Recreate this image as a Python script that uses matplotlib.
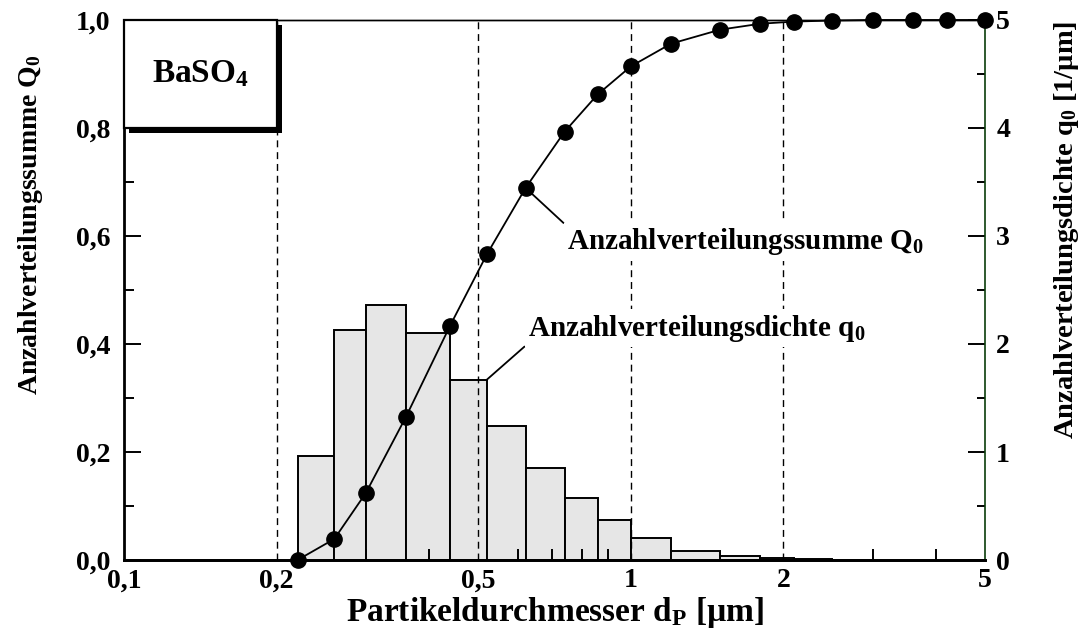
import numpy as np
import matplotlib
matplotlib.use("Agg")
import matplotlib.pyplot as plt
from matplotlib.patches import Rectangle
from matplotlib.ticker import FixedLocator, FixedFormatter, NullFormatter
from matplotlib.transforms import ScaledTranslation

plt.rcParams["font.family"] = ["Liberation Serif", "DejaVu Serif"]
plt.rcParams["font.weight"] = "bold"
plt.rcParams["axes.labelweight"] = "bold"
plt.rcParams["mathtext.fontset"] = "custom"
plt.rcParams["mathtext.rm"] = "Liberation Serif:bold"
plt.rcParams["mathtext.bf"] = "Liberation Serif:bold"
plt.rcParams["mathtext.it"] = "Liberation Serif:bold"

# Particle size class bounds [µm]
class_bounds = [0.22, 0.26, 0.30, 0.36, 0.44, 0.52, 0.62, 0.74, 0.86, 1.0,
                1.2, 1.5, 1.8, 2.1, 2.5, 3.0, 3.6, 4.2, 5.0]
# Cumulative number distribution Q0 at the class bounds
Q0 = [0.0, 0.039, 0.124, 0.265, 0.434, 0.566, 0.689, 0.793, 0.862, 0.914,
      0.956, 0.982, 0.993, 0.997, 0.999, 1.0, 1.0, 1.0, 1.0]
# Number density distribution q0 per class [1/µm]
q0 = [0.96, 2.13, 2.36, 2.10, 1.67, 1.24, 0.855, 0.577, 0.37, 0.206,
      0.086, 0.034, 0.015, 0.007, 0.003]

x_ticks = [0.1, 0.2, 0.5, 1, 2, 5]
x_ticklabels = ["0,1", "0,2", "0,5", "1", "2", "5"]
x_minor = [0.3, 0.4, 0.6, 0.7, 0.8, 0.9, 3, 4]
Q_ticks = [0.0, 0.2, 0.4, 0.6, 0.8, 1.0]
Q_ticklabels = ["0,0", "0,2", "0,4", "0,6", "0,8", "1,0"]
q_ticks = [0, 1, 2, 3, 4, 5]
q_ticklabels = ["0", "1", "2", "3", "4", "5"]
guide_lines = [0.2, 0.5, 1, 2]

fig = plt.figure(figsize=(10.84, 6.44), dpi=100)
ax2 = fig.add_axes([0.1144, 0.1304, 0.7943, 0.8386])
ax1 = fig.add_axes(ax2.get_position(), sharex=ax2)
ax1.patch.set_visible(False)
ax2.yaxis.tick_right()
ax2.yaxis.set_label_position("right")

# density histogram on the right axis
edges = np.array(class_bounds[:len(q0) + 1])
ax2.bar(edges[:-1], q0, width=np.diff(edges), align="edge",
        color="#e6e6e6", edgecolor="black", linewidth=1.4, zorder=1)
ax2.set_xscale("log")
ax2.set_xlim(0.1, 5)
ax2.set_ylim(0, 5)

# dashed guide lines
for gx in guide_lines:
    ax1.axvline(gx, color="black", lw=1.0, ls=(0, (5, 3.5)), zorder=1)

# cumulative curve
ax1.plot(class_bounds, Q0, color="black", lw=1.3, marker="o", ms=11,
         zorder=4, clip_on=False)
ax1.set_ylim(0, 1.0)

# title box with shadow
off = ScaledTranslation(5 / 100, -5 / 100, fig.dpi_scale_trans)
ax1.add_patch(Rectangle((0.1, 0.8), 0.1, 0.2, transform=ax1.transData + off,
                        facecolor="black", edgecolor="black", lw=0,
                        zorder=5, clip_on=False))
ax1.add_patch(Rectangle((0.1, 0.8), 0.1, 0.2, facecolor="white",
                        edgecolor="black", lw=1.6, zorder=6, clip_on=False))
ax1.text(0.1414, 0.9, r"BaSO$_4$", ha="center", va="center", fontsize=24,
         zorder=7)

# annotations
ax1.annotate(r"Anzahlverteilungssumme Q$_0$", xy=(class_bounds[6], Q0[6]),
             xytext=(0.5145, 0.5894), textcoords="axes fraction",
             ha="left", va="center", fontsize=21, zorder=7,
             bbox=dict(boxstyle="square,pad=0.12", fc="white", ec="none"),
             arrowprops=dict(arrowstyle="-", color="black", lw=1.3,
                             relpos=(0, 1), shrinkA=0, shrinkB=0))
ax1.annotate(r"Anzahlverteilungsdichte q$_0$", xy=(class_bounds[5], q0[4]),
             xycoords=ax2.transData,
             xytext=(0.4692, 0.4296), textcoords="axes fraction",
             ha="left", va="center", fontsize=21, zorder=7,
             bbox=dict(boxstyle="square,pad=0.12", fc="white", ec="none"),
             arrowprops=dict(arrowstyle="-", color="black", lw=1.3,
                             relpos=(0, 0), shrinkA=0, shrinkB=0))

# x axis
ax2.xaxis.set_major_locator(FixedLocator(x_ticks))
ax2.xaxis.set_major_formatter(FixedFormatter(x_ticklabels))
ax2.xaxis.set_minor_locator(FixedLocator(x_minor))
ax2.xaxis.set_minor_formatter(NullFormatter())
ax2.tick_params(axis="x", which="both", direction="in", labelsize=20,
                pad=6, width=1.4)
ax2.tick_params(axis="x", which="major", length=0)
ax2.tick_params(axis="x", which="minor", length=8)
ax1.tick_params(axis="x", which="both", bottom=False, labelbottom=False)
ax2.set_xlabel(r"Partikeldurchmesser d$_\mathrm{P}$ [µm]", fontsize=24,
               labelpad=1)

# left axis
ax1.yaxis.set_major_locator(FixedLocator(Q_ticks))
ax1.yaxis.set_major_formatter(FixedFormatter(Q_ticklabels))
ax1.yaxis.set_minor_locator(FixedLocator([0.1, 0.3, 0.5, 0.7, 0.9]))
ax1.tick_params(axis="y", which="both", direction="in", labelsize=20,
                width=1.4, pad=10)
ax1.tick_params(axis="y", which="major", length=12)
ax1.tick_params(axis="y", which="minor", length=7)
ax1.set_ylabel(r"Anzahlverteilungssumme Q$_0$", fontsize=20)
ax1.yaxis.set_label_coords(-0.092, 0.62)

# right axis
ax2.yaxis.set_major_locator(FixedLocator(q_ticks))
ax2.yaxis.set_major_formatter(FixedFormatter(q_ticklabels))
ax2.yaxis.set_minor_locator(FixedLocator([0.5, 1.5, 2.5, 3.5, 4.5]))
ax2.tick_params(axis="y", which="both", direction="in", labelsize=20,
                width=1.4, pad=8)
ax2.tick_params(axis="y", which="major", length=12)
ax2.tick_params(axis="y", which="minor", length=6)
ax2.set_ylabel(r"Anzahlverteilungsdichte q$_0$ [1/µm]", fontsize=20.5)
ax2.yaxis.set_label_coords(1.0775, 0.611)

# spines
for ax in (ax1, ax2):
    ax.spines["left"].set_linewidth(2.0)
    ax.spines["bottom"].set_linewidth(2.0)
    ax.spines["top"].set_linewidth(1.0)
    ax.spines["right"].set_linewidth(1.2)
    ax.spines["right"].set_color("#0b3d0b")
ax1.spines["right"].set_visible(False)
ax2.spines["left"].set_visible(False)

fig.savefig("out.png", dpi=100)
